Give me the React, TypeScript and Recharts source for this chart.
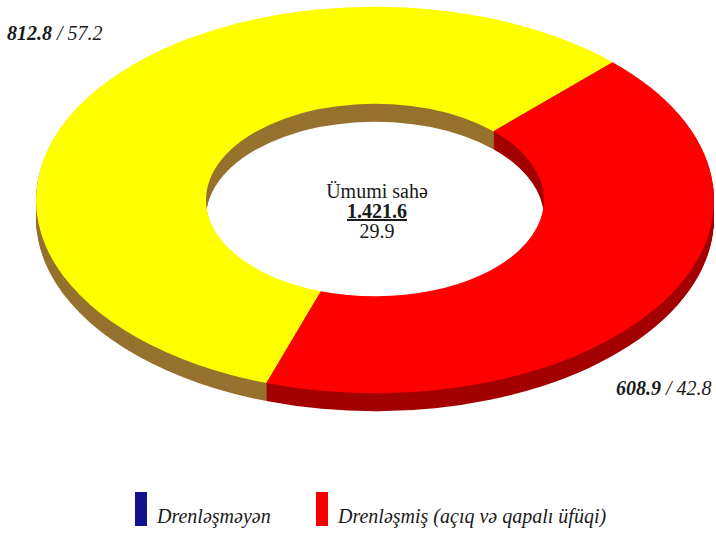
import React from 'react';
import { PieChart, Pie, Cell, Legend } from 'recharts';

const categories = ['Drenləşməyən', 'Drenləşmiş (açıq və qapalı üfüqi)'];
const areaValues = [812.8, 608.9];
const percentValues = [57.2, 42.8];
const topColors = ['#ffff00', '#ff0000'];
const wallColors = ['#96722f', '#a30000'];
const legendColors = ['#11128c', '#f40000'];
const totalTitle = 'Ümumi sahə';
const totalValue = '1.421.6';
const totalSub = '29.9';

const pieData = categories.map((name, i) => ({ name, value: areaValues[i] }));

const W = 716;
const H = 539;
const CX = 375;
const CY = 200;
const SY = 0.57;
const DEPTH = 18;
const FONT = '"Liberation Serif", "Times New Roman", serif';

const layers: number[] = [];
for (let k = DEPTH; k >= 1; k--) layers.push(k);

const squashCss = `g.recharts-pie { transform: translate(0px, ${CY}px) scale(1, ${SY}) translate(0px, ${-CY}px); transform-box: view-box; transform-origin: 0 0; }`;

const LegendContent = () => (
  <svg width={W} height={50} style={{ display: 'block' }}>
    {categories.map((c, i) => {
      const x0 = i === 0 ? 135 : 316;
      return (
        <g key={c}>
          <rect x={x0} y={4} width={12} height={34} fill={legendColors[i]} />
          <text x={x0 + 22} y={35} fontFamily={FONT} fontStyle="italic" fontSize={20} fill="#1a1a1a">
            {c}
          </text>
        </g>
      );
    })}
  </svg>
);

export default function App() {
  return (
    <div style={{ position: 'absolute', left: 0, top: 0, width: W, height: H, background: '#fff' }}>
      <style>{squashCss}</style>
      <PieChart width={W} height={H} margin={{ top: 0, right: 0, bottom: 0, left: 0 }}>
        {layers.map((k) => (
          <Pie
            key={`wall-${k}`}
            data={pieData}
            dataKey="value"
            nameKey="name"
            cx={CX}
            cy={CY + k / SY}
            innerRadius={169}
            outerRadius={339}
            startAngle={45.5}
            endAngle={405.5}
            stroke="none"
            legendType="none"
            isAnimationActive={false}
          >
            {pieData.map((d, i) => (
              <Cell key={d.name} fill={wallColors[i]} />
            ))}
          </Pie>
        ))}
        <Pie
          data={pieData}
          dataKey="value"
          nameKey="name"
          cx={CX}
          cy={CY}
          innerRadius={169}
          outerRadius={339}
          startAngle={45.5}
          endAngle={405.5}
          stroke="none"
          isAnimationActive={false}
        >
          {pieData.map((d, i) => (
            <Cell key={d.name} fill={topColors[i]} />
          ))}
        </Pie>
        <text x={7} y={40} fontFamily={FONT} fontSize={20} fill="#1a1a1a">
          <tspan fontWeight="bold" fontStyle="italic">{areaValues[0].toFixed(1)}</tspan>
          <tspan fontStyle="italic">{` / ${percentValues[0].toFixed(1)}`}</tspan>
        </text>
        <text x={616} y={395} fontFamily={FONT} fontSize={20} fill="#1a1a1a">
          <tspan fontWeight="bold" fontStyle="italic">{areaValues[1].toFixed(1)}</tspan>
          <tspan fontStyle="italic">{` / ${percentValues[1].toFixed(1)}`}</tspan>
        </text>
        <text x={377} y={198} textAnchor="middle" fontFamily={FONT} fontSize={20} fill="#1a1a1a">
          {totalTitle}
        </text>
        <text x={377} y={218} textAnchor="middle" fontFamily={FONT} fontSize={20} fontWeight="bold" fill="#1a1a1a" textDecoration="underline">
          {totalValue}
        </text>
        <text x={377} y={238} textAnchor="middle" fontFamily={FONT} fontSize={20} fill="#1a1a1a">
          {totalSub}
        </text>
        <Legend
          content={LegendContent}
          wrapperStyle={{ position: 'absolute', left: 0, top: 488, width: W, height: 50 }}
        />
      </PieChart>
    </div>
  );
}
